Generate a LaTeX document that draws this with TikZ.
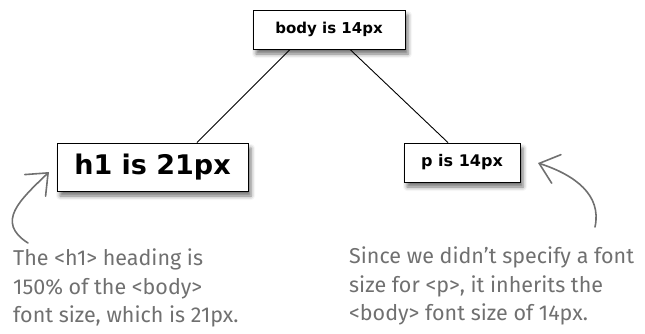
\documentclass[tikz,border=0pt]{standalone}
\usepackage{fontspec}
\usepackage{tikz}
\setmainfont{Fira Sans}
\newfontfamily\tagfont{DejaVu Sans}
\usetikzlibrary{arrows.meta,shadows.blur}
\definecolor{notegray}{RGB}{112,112,112}

\begin{document}
\begin{tikzpicture}[x=1pt, y=-1pt,
    tag/.style={draw, line width=0.8pt, fill=white, inner sep=0pt,
      blur shadow={shadow xshift=3pt, shadow yshift=-5pt, shadow blur radius=4pt, shadow opacity=55}},
    note/.style={anchor=north west, align=left, inner sep=0pt, text=notegray,
      font=\fontsize{21.5}{28.5}\selectfont},
    hook/.style={draw=notegray, line width=1.6pt, line cap=round,
      -{Straight Barb[length=18pt, width=30pt, line cap=round]}}]
    \useasboundingbox (0,0) rectangle (645,333);
    % boxes
    \node[tag, minimum width=152pt, minimum height=39pt, font=\tagfont\bfseries\fontsize{15}{15}\selectfont] (body) at (329,29.5) {body is 14px};
    \node[tag, minimum width=191pt, minimum height=48pt, font=\tagfont\bfseries\fontsize{27}{27}\selectfont] (h1) at (152.5,167) {h1 is 21px};
    \node[tag, minimum width=116pt, minimum height=39pt, font=\tagfont\bfseries\fontsize{16}{16}\selectfont] (p) at (462,162.5) {p is 14px};
    \draw[line width=0.9pt] ([xshift=-39pt]body.south) -- ([xshift=44.5pt]h1.north);
    \draw[line width=0.9pt] ([xshift=21pt]body.south) -- ([xshift=-14pt]p.north);
    % notes
    \node[note] (h1note) at (13,249) {The <h1> heading is\\150\% of the <body>\\font size, which is 21px.};
    \node[note] (pnote) at (349,247) {Since we didn't specify a font\\size for <p>, it inherits the\\<body> font size of 14px.};
    \coordinate (h1from) at (28,243);
    \coordinate (h1to) at (49,172);
    \coordinate (pfrom) at (595,227);
    \coordinate (pto) at (538,163);
    \draw[hook] (h1from) .. controls (-5,222) and (20,200) .. (h1to);
    \draw[hook] (pfrom) .. controls (602,195) and (575,175) .. (pto);
\end{tikzpicture}
\end{document}
